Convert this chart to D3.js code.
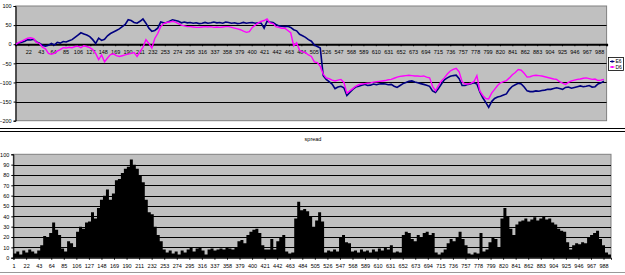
<!DOCTYPE html>
<html><head><meta charset="utf-8">
<script src="https://cdn.jsdelivr.net/npm/d3@7"></script>
<style>
html,body{margin:0;padding:0;background:#fff;}
svg{display:block;}
text{font-family:"Liberation Sans",Arial,sans-serif;}
</style></head>
<body>
<svg id="c" width="625" height="275"></svg>
<script>
// ---- data (one value every 5 categories, categories 1..1000) ----
const sampleStart = 1, sampleStep = 5;
const e6 = [
0,3,5,8,12,11,13,6,3,-3,
-5,-3,2,-2,5,3,7,6,9,12,
18,24,30,27,24,20,12,2,16,10,
13,22,28,32,36,40,46,52,64,62,
57,55,60,66,55,42,34,36,42,58,
56,57,60,64,62,60,56,58,56,57,
55,56,54,55,57,55,56,58,56,57,
55,58,57,55,56,54,55,57,55,56,
57,55,56,55,42,60,58,57,52,48,
47,46,47,44,38,35,26,22,18,12,
8,-2,-6,-10,-82,-92,-98,-104,-116,-112,
-110,-114,-134,-126,-118,-112,-110,-107,-105,-108,
-107,-104,-106,-104,-103,-104,-106,-105,-110,-113,
-108,-103,-100,-97,-96,-99,-101,-103,-105,-107,
-110,-122,-126,-116,-104,-93,-88,-84,-82,-81,
-90,-108,-108,-105,-103,-101,-104,-125,-140,-152,
-165,-150,-142,-138,-136,-133,-130,-118,-110,-106,
-102,-104,-112,-122,-124,-124,-122,-123,-121,-120,
-118,-118,-116,-114,-116,-118,-113,-112,-115,-113,
-111,-109,-111,-110,-108,-112,-111,-104,-101,-97
];
const d6 = [
0,5,8,12,16,17,15,5,2,-8,
-12,-24,-26,-24,-18,-14,-9,-10,-8,-9,
-6,-5,-9,-4,-6,-9,-14,-24,-40,-28,
-46,-36,-27,-25,-30,-32,-30,-28,-26,-24,
-22,-32,-20,-8,12,2,-10,15,28,46,
54,57,58,60,58,54,50,48,46,46,
45,44,44,45,46,45,46,44,45,44,
45,46,46,44,42,40,38,34,31,33,
44,50,56,60,62,66,56,54,46,44,
42,42,36,30,-4,4,-16,-20,-22,-28,
-32,-46,-48,-58,-78,-88,-90,-94,-96,-94,
-92,-100,-128,-122,-116,-110,-106,-104,-103,-102,
-101,-99,-98,-97,-96,-95,-93,-92,-89,-86,
-84,-83,-82,-81,-82,-83,-83,-84,-83,-86,
-88,-110,-122,-108,-96,-88,-78,-70,-66,-63,
-72,-98,-104,-104,-102,-98,-82,-122,-134,-142,
-143,-128,-118,-108,-101,-98,-95,-88,-80,-74,
-66,-68,-76,-86,-85,-82,-81,-82,-83,-85,
-87,-89,-91,-92,-98,-102,-105,-100,-96,-94,
-92,-91,-89,-88,-90,-92,-91,-95,-94,-92
];
const spread = [
4,6,3,7,5,8,6,4,7,12,
21,20,24,34,27,22,9,6,16,14,
10,25,30,28,34,35,44,38,48,56,
60,66,56,62,75,76,82,86,88,95,
90,86,80,73,56,44,42,30,22,16,
8,5,7,4,6,3,7,5,8,10,
6,9,10,7,3,8,9,7,8,9,
8,10,9,8,10,16,17,14,22,25,
27,28,24,12,8,8,18,8,16,20,
22,6,4,5,38,54,46,47,45,40,
30,36,44,35,5,7,6,8,6,20,
22,15,14,6,7,5,8,6,7,5,
8,6,9,7,10,8,12,5,6,5,
22,25,24,18,16,22,20,24,25,22,
24,5,3,5,8,14,18,16,20,25,
18,12,4,3,5,4,24,6,8,15,
20,18,10,38,48,40,28,22,32,35,
36,38,35,37,39,36,38,40,37,38,
34,32,28,26,25,15,8,12,14,13,
15,14,20,22,24,26,18,12,5,3
];
const categoryCount = 1000;
const categoryTicks = [1,22,43,64,85,106,127,148,169,190,211,232,253,274,295,316,337,358,379,400,421,442,463,484,505,526,547,568,589,610,631,652,673,694,715,736,757,778,799,820,841,862,883,904,925,946,967,988];
const topYTicks = [100,50,0,-50,-100,-150,-200];
const botYTicks = [0,10,20,30,40,50,60,70,80,90,100];
const seriesNames = ["E6","D6"];
const chartTitle = "spread";

const idx = e6.map((_,k)=>sampleStart + k*sampleStep);
const svg = d3.select("#c");
const FONT = 5.5;

// separators
svg.append("line").attr("x1",0).attr("x2",625).attr("y1",128.5).attr("y2",128.5).attr("stroke","#000").attr("stroke-width",1);
svg.append("line").attr("x1",0).attr("x2",625).attr("y1",131.5).attr("y2",131.5).attr("stroke","#000").attr("stroke-width",1);
svg.append("line").attr("x1",0).attr("x2",625).attr("y1",272.5).attr("y2",272.5).attr("stroke","#999").attr("stroke-width",1);

// ---------------- TOP CHART ----------------
const xT = d3.scaleLinear().domain([0.5, categoryCount+0.5]).range([15.6, 606.6]);
const yT = d3.scaleLinear().domain([-200,100]).range([120.7, 6]);
const gT = svg.append("g");
gT.append("rect").attr("x",xT.range()[0]).attr("y",yT(100)).attr("width",xT.range()[1]-xT.range()[0]).attr("height",yT(-200)-yT(100))
  .attr("fill","#c0c0c0").attr("stroke","#808080").attr("stroke-width",1);
gT.selectAll("line.g").data(topYTicks.filter(t=>t!==100 && t!==-200 && t!==0)).join("line")
  .attr("x1",xT.range()[0]).attr("x2",xT.range()[1]).attr("y1",d=>Math.round(yT(d))+0.5).attr("y2",d=>Math.round(yT(d))+0.5)
  .attr("stroke","#000").attr("stroke-width",1);
const yAxT = gT.append("g").attr("transform",`translate(${xT.range()[0]},0)`)
  .call(d3.axisLeft(yT).tickValues(topYTicks).tickSize(2).tickPadding(2));
yAxT.select(".domain").attr("stroke","#000");
yAxT.selectAll("text").attr("font-size",FONT).attr("fill","#000").style("font-family","Liberation Sans, Arial");
const xAxT = gT.append("g").attr("transform",`translate(0,${yT(0)})`)
  .call(d3.axisBottom(xT).tickValues(categoryTicks.filter(t=>t!==1)).tickSize(2).tickPadding(4));
xAxT.select(".domain").attr("stroke","#000").attr("stroke-width",2);
xAxT.selectAll("text").attr("font-size",FONT).attr("fill","#000").style("font-family","Liberation Sans, Arial");
const lineT = d3.line().x((d,k)=>xT(idx[k])).y(d=>yT(d));
gT.append("path").datum(e6).attr("d",lineT).attr("fill","none").attr("stroke","#000080").attr("stroke-width",1.6);
gT.append("path").datum(d6).attr("d",lineT).attr("fill","none").attr("stroke","#ff00ff").attr("stroke-width",1.4);
// legend
const lg = svg.append("g").attr("transform","translate(608.5,57.5)");
lg.append("rect").attr("width",15).attr("height",13).attr("fill","#fff").attr("stroke","#000").attr("stroke-width",0.8);
const lcol = ["#000080","#ff00ff"];
seriesNames.forEach((n,k)=>{
  const yy = 4 + k*5.5;
  lg.append("line").attr("x1",1.5).attr("x2",6).attr("y1",yy).attr("y2",yy).attr("stroke",lcol[k]).attr("stroke-width",1);
  lg.append("rect").attr("x",2.8).attr("y",yy-1).attr("width",2).attr("height",2).attr("fill",lcol[k]);
  lg.append("text").attr("x",7).attr("y",yy+1.8).attr("font-size",5).attr("fill","#000").text(n);
});

// ---------------- BOTTOM CHART ----------------
const xB = d3.scaleLinear().domain([0.5, categoryCount+0.5]).range([13.3, 611]);
const yB = d3.scaleLinear().domain([0,100]).range([257.7,154.3]);
const gB = svg.append("g");
gB.append("text").attr("x",313).attr("y",141).attr("text-anchor","middle").attr("font-size",FONT).attr("fill","#000").text(chartTitle);
gB.append("rect").attr("x",xB.range()[0]).attr("y",yB(100)).attr("width",xB.range()[1]-xB.range()[0]).attr("height",yB(0)-yB(100))
  .attr("fill","#c0c0c0").attr("stroke","#808080").attr("stroke-width",1);
gB.selectAll("line.g").data(botYTicks.filter(t=>t>0 && t<100)).join("line")
  .attr("x1",xB.range()[0]).attr("x2",xB.range()[1]).attr("y1",d=>Math.round(yB(d))+0.5).attr("y2",d=>Math.round(yB(d))+0.5)
  .attr("stroke","#000").attr("stroke-width",1);
// bars drawn as one stepped area (no seams between adjacent bars)
const barPts = spread.map((v,k)=>[idx[k]-0.5, v]);
barPts.push([categoryCount+0.5, spread[spread.length-1]]);
const areaB = d3.area().curve(d3.curveStepAfter).x(d=>xB(d[0])).y0(yB(0)).y1(d=>yB(d[1]));
gB.append("path").datum(barPts).attr("d",areaB).attr("fill","#000").attr("stroke","none");
const yAxB = gB.append("g").attr("transform",`translate(${xB.range()[0]},0)`)
  .call(d3.axisLeft(yB).tickValues(botYTicks).tickSize(2).tickPadding(2));
yAxB.select(".domain").attr("stroke","#000");
yAxB.selectAll("text").attr("font-size",FONT).attr("fill","#000").style("font-family","Liberation Sans, Arial");
const xAxB = gB.append("g").attr("transform",`translate(0,${yB(0)})`)
  .call(d3.axisBottom(xB).tickValues(categoryTicks).tickSize(2).tickPadding(4));
xAxB.select(".domain").attr("stroke","#000");
xAxB.selectAll("text").attr("font-size",FONT).attr("fill","#000").style("font-family","Liberation Sans, Arial");
</script>
</body></html>
